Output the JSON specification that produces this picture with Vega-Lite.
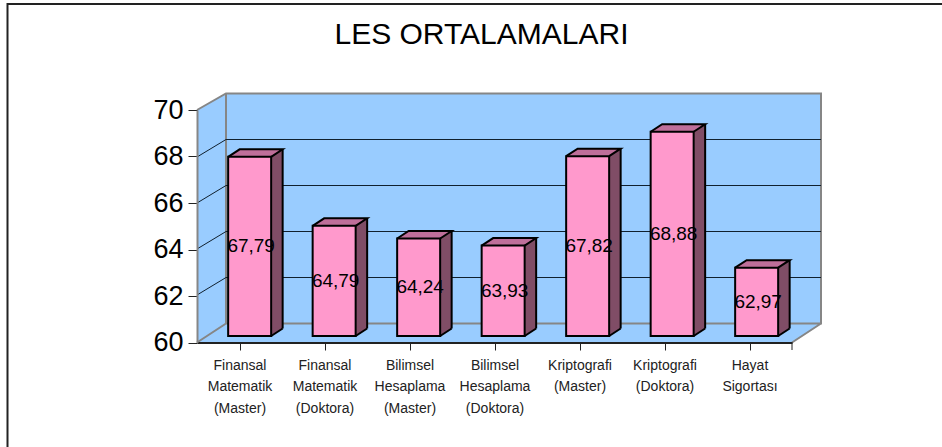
{"$schema":"https://vega.github.io/schema/vega-lite/v6.json","autosize":{"type":"none"},"width":595,"height":232.5,"padding":{"left":197,"top":110,"right":150,"bottom":104.5},"background":"white",
"title":{"text":"LES ORTALAMALARI","font":"Liberation Sans","fontSize":30,"fontWeight":"normal","color":"#000000","dx":-13,"offset":-50,"anchor":"middle"},
"config":{"view":{"stroke":null}},
"data":{"values":[
{"category":"Finansal|Matematik|(Master)","value":67.79,"label":"67,79"},
{"category":"Finansal|Matematik|(Doktora)","value":64.79,"label":"64,79"},
{"category":"Bilimsel|Hesaplama|(Master)","value":64.24,"label":"64,24"},
{"category":"Bilimsel|Hesaplama|(Doktora)","value":63.93,"label":"63,93"},
{"category":"Kriptografi|(Master)","value":67.82,"label":"67,82"},
{"category":"Kriptografi|(Doktora)","value":68.88,"label":"68,88"},
{"category":"Hayat|Sigortası","value":62.97,"label":"62,97"}]},
"layer":[
{"transform":[{"filter":"datum.category==='Finansal|Matematik|(Master)'"}],
 "encoding":{
  "x":{"field":"category","type":"nominal","sort":null,"title":null,"scale":{"domain":["Finansal|Matematik|(Master)","Finansal|Matematik|(Doktora)","Bilimsel|Hesaplama|(Master)","Bilimsel|Hesaplama|(Doktora)","Kriptografi|(Master)","Kriptografi|(Doktora)","Hayat|Sigortası"],"paddingInner":0,"paddingOuter":0},"axis":{"bandPosition":0,"labelAngle":0,"labelFont":"Liberation Sans","labelFontSize":14,"labelColor":"#222222","labelExpr":"split(datum.label,'|')","labelLineHeight":21.7,"labelPadding":8,"labelBaseline":"top","labelOverlap":false,"tickSize":7.5,"tickColor":"#222222","tickWidth":1,"domainColor":"#222222","domainWidth":2,"zindex":1,"labelLimit":200}},
  "y":{"datum":60,"type":"quantitative","title":null,"scale":{"domain":[60,70],"zero":false,"nice":false},"axis":{"values":[60,62,64,66,68,70],"grid":false,"labelFont":"Liberation Sans","labelFontSize":27,"labelColor":"#000000","labelPadding":5,"tickSize":9,"tickColor":"#222222","tickWidth":1,"domainColor":"#868686","domainWidth":2,"zindex":1}}},
 "layer":[
  {"mark":{"type":"point","size":4,"filled":true,"fill":"#99ccff","opacity":1,"strokeWidth":0,"shape":"M-42.5,0L-42.5,-232.5L-13.5,-249L581.5,-249L581.5,-19L552.5,0Z"}},
  {"mark":{"type":"point","size":4,"filled":false,"stroke":"#868686","strokeWidth":2,"opacity":1,"shape":"M-42.5,0L-13.5,-19L-13.5,-249M-42.5,-232.5L-13.5,-249L581.5,-249L581.5,-19L-13.5,-19M581.5,-19L552.5,0"}},
  {"mark":{"type":"point","size":4,"filled":false,"stroke":"#222222","strokeWidth":1,"opacity":1,"shape":"M552.5,0L552.5,7.5"}},
  {"mark":{"type":"point","size":4,"filled":false,"stroke":"#222222","strokeWidth":2,"opacity":1,"shape":"M702.5,-338.5L-232,-338.5L-232,104.5"}}
 ]},
{"data":{"values":[{"tick":62},{"tick":64},{"tick":66},{"tick":68}]},
 "mark":{"type":"point","size":4,"filled":false,"stroke":"#10202e","strokeWidth":1,"opacity":1,"shape":"M-42.5,17.5L-13.5,0L581.5,0"},
 "encoding":{
  "x":{"datum":"a","type":"nominal","scale":{"domain":["a","b","c","d","e","f","g"],"paddingInner":0,"paddingOuter":0},"axis":null},
  "y":{"field":"tick","type":"quantitative","scale":{"domain":[60,70],"range":[213.5,-16.5],"zero":false,"nice":false},"axis":null}}},
{"encoding":{
  "x":{"field":"category","type":"nominal","sort":null,"scale":{"range":[10.4,601.9],"paddingInner":0,"paddingOuter":0},"axis":null},
  "y":{"field":"value","type":"quantitative","scale":{"domain":[60,70],"range":[226,-4],"zero":false,"nice":false},"axis":null}},
 "layer":[
  {"mark":{"type":"point","size":4,"filled":true,"fill":"#bf6f9a","opacity":1,"strokeWidth":0,"shape":"M-21.5,0L-10,-7.5L33,-7.5L21.5,0Z"}},
  {"mark":{"type":"bar","width":11.5,"xOffset":27.25,"y2Offset":-7.5,"fill":"#804d66"},"encoding":{"y2":{"datum":60}}},
  {"mark":{"type":"point","size":4,"filled":true,"fill":"#804d66","opacity":1,"strokeWidth":0,"shape":"M21.5,0L33,-7.5L33,1L21.5,1Z"}},
  {"mark":{"type":"point","size":4,"filled":true,"fill":"#804d66","opacity":1,"strokeWidth":0,"shape":"M21.5,0L33,-7.5L33,-8.5L21.5,-8.5Z"},"encoding":{"y":{"datum":60,"type":"quantitative"}}},
  {"mark":{"type":"bar","width":43,"fill":"#ff99cc","stroke":"#000000","strokeWidth":2},"encoding":{"y2":{"datum":60}}},
  {"mark":{"type":"point","size":4,"filled":false,"stroke":"#000000","strokeWidth":2,"opacity":1,"shape":"M-21.5,0L-10,-7.5L33,-7.5L21.5,0"}},
  {"mark":{"type":"point","size":4,"filled":false,"stroke":"#000000","strokeWidth":2,"opacity":1,"shape":"M21.5,0L33,-7.5"},"encoding":{"y":{"datum":60,"type":"quantitative"}}},
  {"mark":{"type":"rule","xOffset":33,"yOffset":-7.5,"y2Offset":-7.5,"stroke":"#000000","strokeWidth":2},"encoding":{"y2":{"datum":60}}}
 ]},
{"mark":{"type":"text","font":"Liberation Sans","fontSize":19,"color":"#000000","baseline":"middle","align":"center","dx":1.5,"dy":0},
 "encoding":{
  "x":{"field":"category","type":"nominal","sort":null,"scale":{"range":[10.4,601.9],"paddingInner":0,"paddingOuter":0},"axis":null},
  "y":{"field":"value","type":"quantitative","scale":{"domain":[60,70],"range":[226,111],"zero":false,"nice":false},"axis":null},
  "text":{"field":"label"}}}
],
"resolve":{"scale":{"x":"independent","y":"independent"}}}
